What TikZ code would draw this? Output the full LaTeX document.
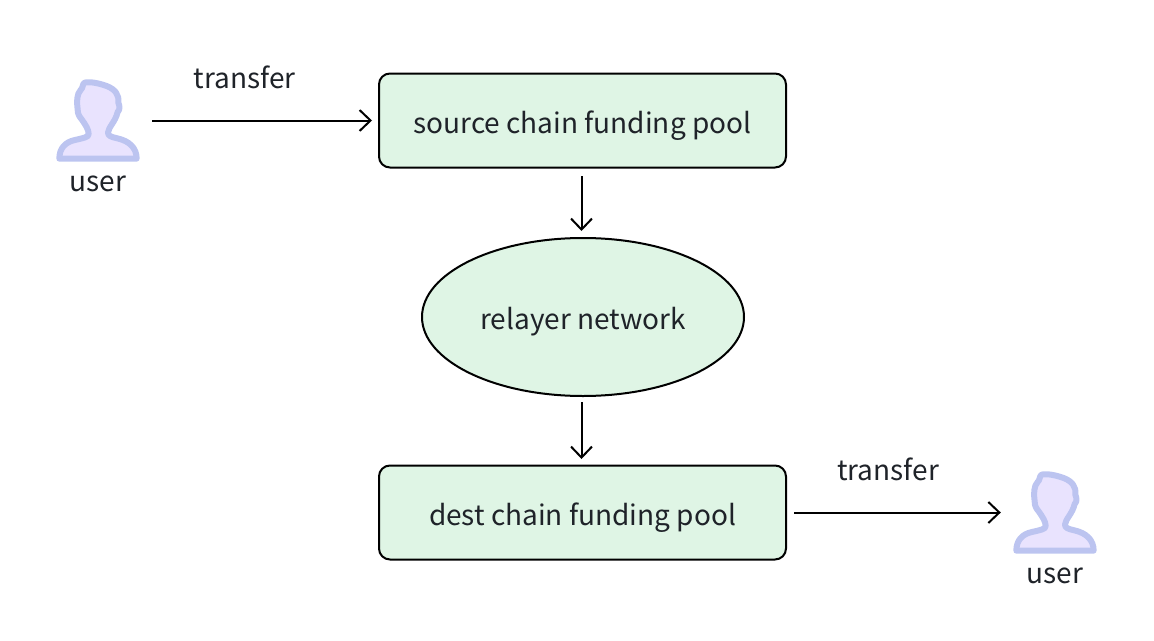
\documentclass[tikz,border=0pt]{standalone}
\usepackage{fontspec}
\setmainfont{Noto Sans CJK SC}
\usetikzlibrary{shapes.geometric,arrows.meta,positioning}
\definecolor{inkc}{HTML}{1F2329}
\definecolor{boxfill}{HTML}{DFF5E5}
\definecolor{personfill}{HTML}{E9E3FE}
\definecolor{personline}{HTML}{BCC4F0}
\tikzset{
  x=1pt,y=-1pt,
  poolbox/.style={draw=black,line width=2pt,fill=boxfill,rounded corners=11pt,minimum width=407pt,minimum height=94pt,inner sep=0pt,text=inkc,text height=32pt,text depth=7pt,font=\fontsize{28}{34}\selectfont},
  relay/.style={ellipse,draw=black,line width=2pt,fill=boxfill,minimum width=322pt,minimum height=158pt,inner sep=0pt,text=inkc,text height=32pt,text depth=8pt,font=\fontsize{28}{34}\selectfont},
  lbl/.style={inner sep=0pt,text=inkc,font=\fontsize{28}{34}\selectfont},
  flow/.style={draw=black,line width=2pt,-{Straight Barb[length=11pt,width=21pt,line width=2pt]}},
  anchorbox/.style={minimum width=82pt,minimum height=82pt,inner sep=0pt},
  person/.pic={
    \draw[personline,fill=personfill,line width=6pt,line join=round,x=0.3333pt,y=-0.3333pt]
      (58,296) -- (290,296)
      .. controls (290,264) and (268,243) .. (232,235)
      .. controls (214,231) and (204,228) .. (204,218)
      .. controls (206,200) and (226,186) .. (233,156)
      .. controls (241,148) and (239,138) .. (235,128)
      .. controls (238,105) and (226,88) .. (200,78)
      .. controls (178,70) and (150,64) .. (134,68)
      .. controls (126,72) and (130,84) .. (122,90)
      .. controls (110,102) and (110,125) .. (113,148)
      .. controls (112,162) and (120,172) .. (125,178)
      .. controls (136,194) and (146,208) .. (146,222)
      .. controls (146,232) and (130,234) .. (105,240)
      .. controls (75,246) and (58,266) .. (58,296) -- cycle;
  }
}
\begin{document}
\begin{tikzpicture}
\useasboundingbox (0,0) rectangle (1154,640);
\node[poolbox] (src) at (582.5,120.5) {source chain funding pool};
\node[relay] (rel) at (583,317) {relayer network};
\node[poolbox] (dst) at (582.5,512.5) {dest chain funding pool};
\node[anchorbox] (u1) at (98,120.5) {};
\node[anchorbox] (u2) at (1055,512.5) {};
\pic at (40,60) {person};
\pic at (997,452) {person};
\node[lbl] (ul1) at (98,184) {user};
\node[lbl] (ul2) at (1055,576) {user};
\node[lbl] (t1) at (244.5,77.5) {transfer};
\node[lbl] (t2) at (888,469.5) {transfer};
\draw[flow,shorten <=13pt,shorten >=6pt] (u1.east) -- (src.west);
\draw[flow,shorten <=7pt,shorten >=13pt] (dst.east) -- (u2.west);
\coordinate (a1) at (581.5,167);
\coordinate (a2) at (581.5,238);
\coordinate (a3) at (581.5,396);
\coordinate (a4) at (581.5,465);
\draw[flow,shorten <=9pt,shorten >=7pt] (a1) -- (a2);
\draw[flow,shorten <=6pt,shorten >=6pt] (a3) -- (a4);
\end{tikzpicture}
\end{document}
